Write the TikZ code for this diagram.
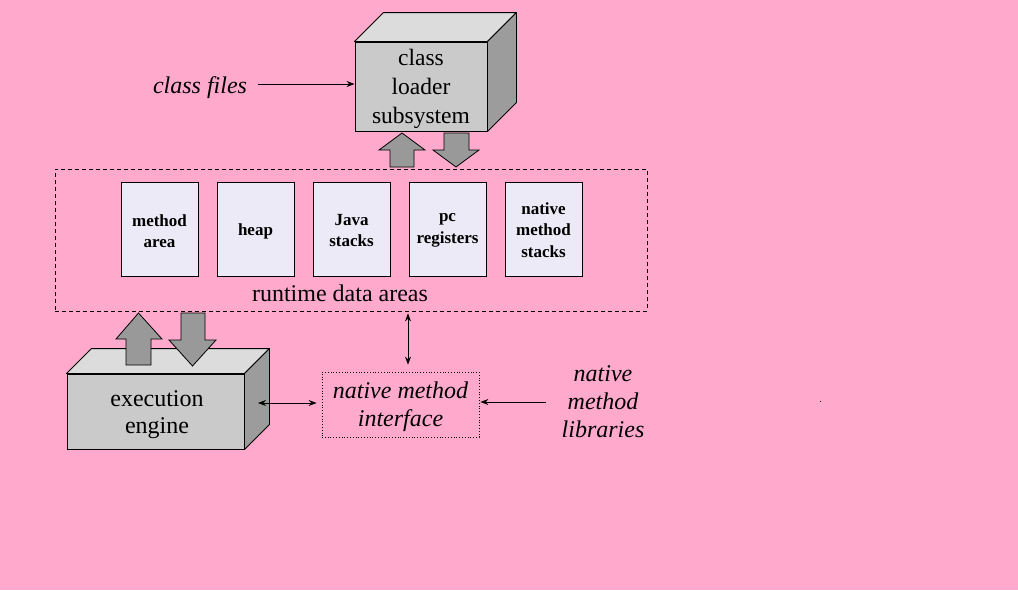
\documentclass[tikz,border=0pt]{standalone}
\usepackage{fontspec}
\setmainfont{Liberation Serif}
\usetikzlibrary{arrows.meta,calc}
\definecolor{bgpink}{HTML}{FFAACC}
\definecolor{frontgray}{HTML}{CACACA}
\definecolor{topgray}{HTML}{DCDCDC}
\definecolor{sidegray}{HTML}{9C9C9C}
\definecolor{innerbox}{HTML}{ECEAF6}
\definecolor{blockgray}{HTML}{999999}
\begin{document}
\begin{tikzpicture}[x=1pt,y=-1pt,
  front/.style={draw=black, line width=0.9pt, fill=frontgray, inner sep=0pt},
  cubetext/.style={align=center, inner sep=0pt, font=\fontsize{23.5}{29}\selectfont},
  topface/.style={draw=black, line width=0.9pt, fill=topgray, line join=round},
  sideface/.style={draw=black, line width=0.9pt, fill=sidegray, line join=round},
  areabox/.style={draw=black, line width=0.9pt, fill=innerbox, minimum width=77pt, minimum height=94pt, inner sep=0pt, align=center, font=\fontsize{17}{21.5}\selectfont\bfseries},
  areatext/.style={align=center, inner sep=0pt, font=\fontsize{17}{21.5}\selectfont\bfseries},
  blockarrow/.style={draw=black, line width=0.8pt, fill=blockgray, line join=miter},
  arr/.style={line width=0.8pt, -{Stealth[length=8pt,width=6pt]}},
  darr/.style={line width=0.8pt, {Stealth[length=8pt,width=6pt]}-{Stealth[length=8pt,width=6pt]}}
]
\fill[bgpink] (0,0) rectangle (1018,590);
\useasboundingbox (0,0) rectangle (1018,590);

% class loader subsystem cube
\node[front, minimum width=132pt, minimum height=89pt] (cls) at (421,86.5) {};
\filldraw[topface] (cls.north west) -- ++(29,-29) -- ($(cls.north east)+(29,-29)$) -- (cls.north east) -- cycle;
\filldraw[sideface] (cls.north east) -- ++(29,-29) -- ($(cls.south east)+(29,-29)$) -- (cls.south east) -- cycle;
\node[cubetext] (clstext) at ($(cls.center)+(0,2.5)$) {class\\loader\\subsystem};

% block arrows below class loader
\filldraw[blockarrow] (390,167) -- (390,150) -- (379,150) -- (402,133) -- (425,150) -- (414,150) -- (414,167) -- cycle;
\filldraw[blockarrow] (444,133) -- (469,133) -- (469,150) -- (479,150) -- (456,167) -- (433,150) -- (444,150) -- cycle;

% class files
\node[font=\fontsize{24}{29}\selectfont\itshape] (cf) at (200,87.5) {class files};
\coordinate (cfstart) at (258,84);
\draw[arr] (cfstart) -- (cls.west |- cfstart);

% runtime data areas
\node[draw=black, line width=0.8pt, dash pattern=on 4pt off 3pt, minimum width=592pt, minimum height=142pt, inner sep=0pt] (rda) at (351,240) {};
\node[font=\fontsize{24}{29}\selectfont] (rdalabel) at (340,293) {runtime data areas};

\node[areabox] (ma) at (159.5,229) {};
\node[areabox] (hp) at (255.5,229) {};
\node[areabox] (js) at (351.5,229) {};
\node[areabox] (pc) at (447.5,229) {};
\node[areabox] (nms) at (543.5,229) {};
\node[areatext] (matext) at ($(ma.center)+(0,2)$) {method\\area};
\node[areatext] (hptext) at ($(hp.center)+(0,2.5)$) {heap};
\node[areatext] (jstext) at ($(js.center)+(0,1.5)$) {Java\\stacks};
\node[areatext] (pctext) at ($(pc.center)+(0,1.5)$) {pc\\registers};
\node[areatext] (nmstext) at ($(nms.center)+(0,1)$) {native\\method\\stacks};

% execution engine cube
\node[front, minimum width=177pt, minimum height=75pt] (ee) at (155.5,411.5) {};
\filldraw[topface] (ee.north west) -- ++(25,-25) -- ($(ee.north east)+(25,-25)$) -- (ee.north east) -- cycle;
\filldraw[sideface] (ee.north east) -- ++(25,-25) -- ($(ee.south east)+(25,-25)$) -- (ee.south east) -- cycle;
\node[align=center, inner sep=0pt, font=\fontsize{24}{27}\selectfont] (eetext) at ($(ee.center)+(1.5,3)$) {execution\\engine};

% block arrows above execution engine
\filldraw[blockarrow] (126,365) -- (126,339) -- (116,339) -- (138.5,313) -- (162,339) -- (151,339) -- (151,365) -- cycle;
\filldraw[blockarrow] (181,313) -- (205,313) -- (205,340) -- (216,340) -- (192.5,366) -- (169,340) -- (181,340) -- cycle;

% native method interface
\node[draw=black, line width=0.8pt, dotted, minimum width=157pt, minimum height=65pt, inner sep=0pt] (nmi) at (400.5,404.5) {};
\node[align=center, inner sep=0pt, font=\fontsize{24}{28}\selectfont\itshape] (nmitext) at ($(nmi.center)+(0,2)$) {native method\\interface};

% native method libraries
\node[align=center, font=\fontsize{24}{28}\selectfont\itshape] (nml) at (603,402) {native\\method\\libraries};
\coordinate (nmlstart) at (546,402);
\draw[arr, shorten >=1pt] (nmlstart) -- (nmi.east |- nmlstart);

% vertical double arrow
\coordinate (vx) at (408,0);
\draw[darr, shorten <=2pt, shorten >=7pt] (rda.south -| vx) -- (nmi.north -| vx);

% execution engine <-> native method interface
\coordinate (eeA) at (258,403);
\draw[darr, shorten >=5pt] (eeA) -- (nmi.west |- eeA);

% speck
\fill[black] (819.5,400.5) rectangle (821,402);
\end{tikzpicture}
\end{document}
